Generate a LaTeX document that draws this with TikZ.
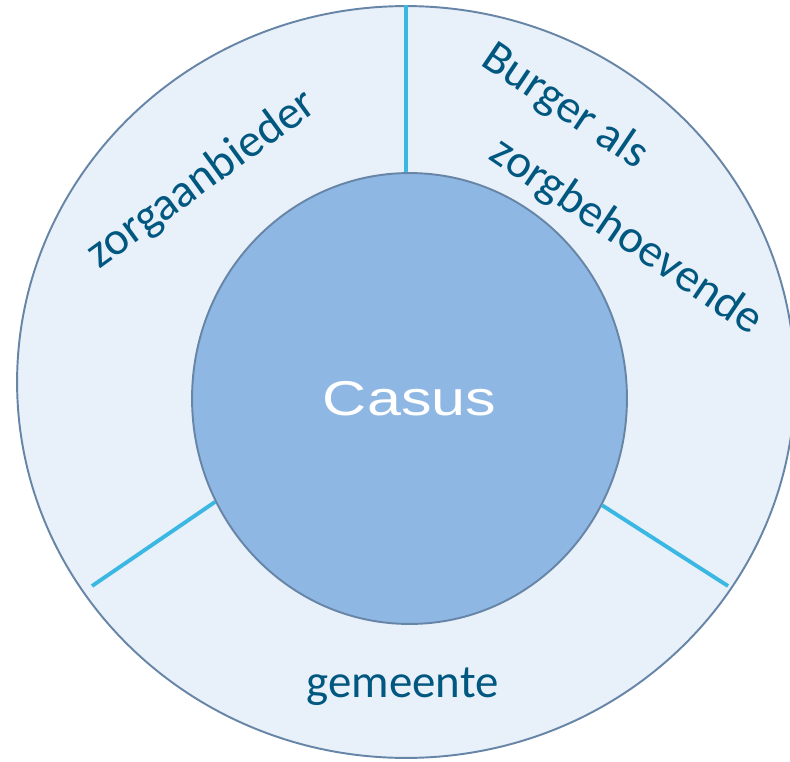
\documentclass[tikz,border=0pt]{standalone}
\usepackage{fontspec}
\setmainfont{Carlito}
\newfontfamily\casusfont{Liberation Sans}
\usetikzlibrary{shapes.geometric,positioning}
\definecolor{ringfill}{HTML}{E8F0F9}
\definecolor{ringedge}{HTML}{6785A6}
\definecolor{casusfill}{HTML}{8EB8E3}
\definecolor{dividercol}{HTML}{3AB7E2}
\definecolor{labelcol}{HTML}{00577F}
\tikzset{ringly/.style={draw=ringedge,fill=ringfill,ellipse,line width=1.1pt,inner sep=0},
    casusly/.style={draw=ringedge,fill=casusfill,ellipse,line width=1.1pt,inner sep=0,
        text=white,font=\casusfont\fontsize{27.8}{33}\selectfont},
    divider/.style={draw=dividercol,line width=2.2pt},
    sectortext/.style={text=labelcol,font=\fontsize{26.7}{32}\selectfont,inner sep=0}}

\begin{document}
\begin{tikzpicture}[x=0.02cm,y=-0.02cm]
\useasboundingbox (0,0) rectangle (790,761);

\node (ring) [ringly,minimum width=15.56cm,minimum height=15.04cm] at (406,382) {};
\node (casus) [casusly,minimum width=8.7cm,minimum height=9.02cm] at (409.5,398.5) {\scalebox{1.25}[1]{Casus}};

% free ends of the lower dividers
\coordinate (endleft) at (92,586);
\coordinate (endright) at (728,586);

\draw [divider] (ring.north) -- (ring.north |- casus.north);
\foreach \ang/\tip in {208.4/endleft,331.3/endright}
    \draw [divider] (casus.\ang) -- (\tip);

\node (lab0) [sectortext,rotate=36] at (202,180) {zorgaanbieder};
\node (lab1) [sectortext,rotate=-34] at (565,107) {Burger als};
\node (lab2) [sectortext,rotate=-34] at (626,237) {zorgbehoevende};
\node (lab3) [sectortext,anchor=base] at (402.5,697.5) {gemeente};

\end{tikzpicture}
\end{document}
